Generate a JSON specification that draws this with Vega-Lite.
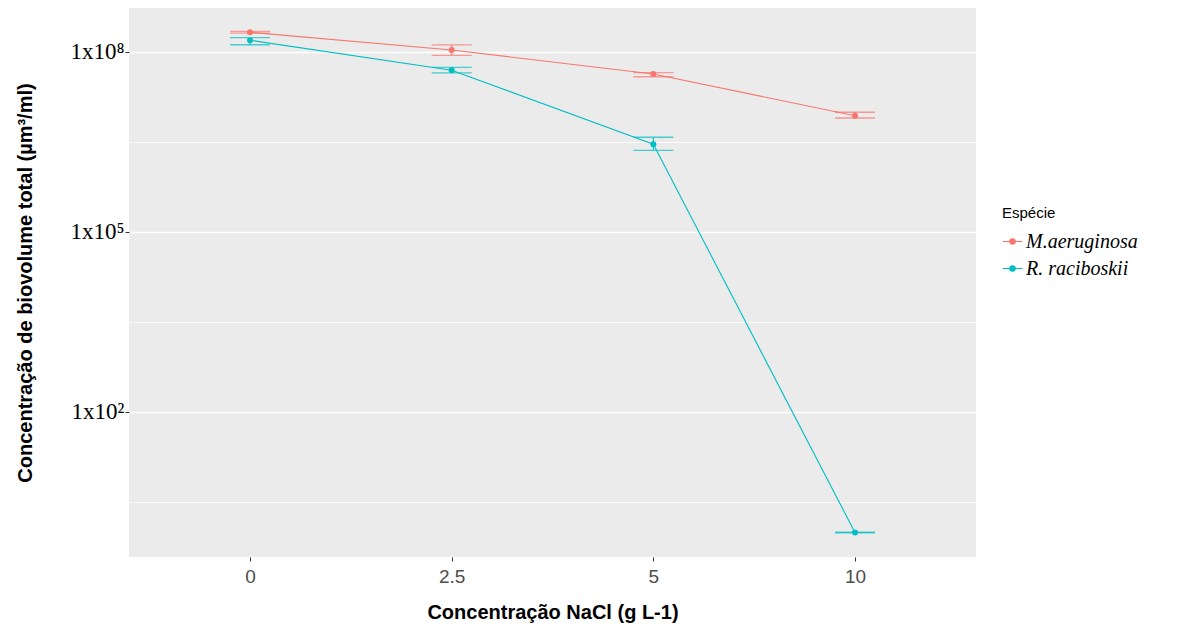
{
  "$schema": "https://vega.github.io/schema/vega-lite/v6.json",
  "width": 847,
  "height": 549,
  "autosize": {"type": "none"},
  "padding": {"left": 129, "top": 8, "right": 203, "bottom": 71},
  "background": "white",
  "config": {
    "view": {"fill": "#EBEBEB", "stroke": null},
    "axis": {"gridColor": "white", "domain": false, "tickColor": "#333333"}
  },
  "data": {
    "values": [
      {"conc": "0", "especie": "M.aeruginosa", "mean": 2.13e8, "lo": 2.06e8, "hi": 2.2e8},
      {"conc": "2.5", "especie": "M.aeruginosa", "mean": 1.08e8, "lo": 8.8e7, "hi": 1.31e8},
      {"conc": "5", "especie": "M.aeruginosa", "mean": 4.3e7, "lo": 3.87e7, "hi": 4.52e7},
      {"conc": "10", "especie": "M.aeruginosa", "mean": 8.67e6, "lo": 7.94e6, "hi": 9.9e6},
      {"conc": "0", "especie": "R. raciboskii", "mean": 1.57e8, "lo": 1.32e8, "hi": 1.73e8},
      {"conc": "2.5", "especie": "R. raciboskii", "mean": 4.96e7, "lo": 4.47e7, "hi": 5.56e7},
      {"conc": "5", "especie": "R. raciboskii", "mean": 2.9e6, "lo": 2.3e6, "hi": 3.79e6},
      {"conc": "10", "especie": "R. raciboskii", "mean": 0.98, "lo": 0.97, "hi": 0.99}
    ]
  },
  "encoding": {
    "x": {
      "field": "conc",
      "type": "ordinal",
      "sort": ["0", "2.5", "5", "10"],
      "scale": {"type": "point", "padding": 0.6},
      "axis": {
        "title": "Concentração NaCl (g L-1)",
        "labelAngle": 0,
        "labelFont": "Liberation Sans",
        "labelFontSize": 19,
        "labelColor": "#4D4D4D",
        "labelPadding": 6,
        "tickSize": 4,
        "gridWidth": 1.4,
        "titleFont": "Liberation Sans",
        "titleFontSize": 20,
        "titleFontWeight": "bold",
        "titleColor": "black",
        "titleBaseline": "middle",
        "titleY": 55
      }
    },
    "color": {
      "field": "especie",
      "type": "nominal",
      "scale": {"domain": ["M.aeruginosa", "R. raciboskii"], "range": ["#F8766D", "#00BFC4"]},
      "legend": {
        "title": "Espécie",
        "orient": "none",
        "legendX": 873,
        "legendY": 198,
        "titleFont": "Liberation Sans",
        "titleFontSize": 15,
        "titleFontWeight": "normal",
        "titleColor": "black",
        "titlePadding": 10,
        "labelFont": "Liberation Serif",
        "labelFontSize": 20,
        "labelFontStyle": "italic",
        "labelColor": "black",
        "labelOffset": 3,
        "rowPadding": 6,
        "symbolType": "M-1,0L1,0M-0.28,0A0.28,0.28 0 1,0 0.28,0A0.28,0.28 0 1,0 -0.28,0Z",
        "symbolSize": 380,
        "symbolStrokeWidth": 1.2,
        "symbolOpacity": 1
      }
    }
  },
  "layer": [
    {
      "mark": {"type": "line", "strokeWidth": 1.1},
      "encoding": {
        "y": {
          "field": "mean",
          "type": "quantitative",
          "scale": {"type": "log", "domain": [0.383, 541000000], "nice": false, "zero": false},
          "axis": {
            "values": [3.1623, 100, 3162.3, 100000, 3162278, 100000000],
            "labelExpr": "datum.value == 1e8 ? '1x10⁸' : datum.value == 1e5 ? '1x10⁵' : datum.value == 100 ? '1x10²' : ''",
            "labelFont": "Liberation Serif",
            "labelFontSize": 23,
            "labelColor": "black",
            "labelPadding": 1,
            "tickSize": 4,
            "tickColor": {"condition": {"test": "datum.value == 1e8 || datum.value == 1e5 || datum.value == 100", "value": "#333333"}, "value": "transparent"},
            "gridWidth": {"condition": {"test": "datum.value == 1e8 || datum.value == 1e5 || datum.value == 100", "value": 1.4}, "value": 0.7},
            "title": "Concentração de biovolume total (µm³/ml)",
            "titleFont": "Liberation Sans",
            "titleFontSize": 20,
            "titleFontWeight": "bold",
            "titleColor": "black",
            "titleAngle": 270,
            "titleAlign": "center",
            "titleBaseline": "middle",
            "titleX": -104,
            "titleY": 274.5
          }
        }
      }
    },
    {
      "mark": {"type": "point", "filled": true, "size": 36, "opacity": 1},
      "encoding": {"y": {"field": "mean", "type": "quantitative"}}
    },
    {
      "mark": {"type": "rule", "strokeWidth": 1.1},
      "encoding": {
        "y": {"field": "lo", "type": "quantitative"},
        "y2": {"field": "hi"}
      }
    },
    {
      "mark": {"type": "tick", "orient": "horizontal", "size": 40, "thickness": 1.3},
      "encoding": {"y": {"field": "lo", "type": "quantitative"}}
    },
    {
      "mark": {"type": "tick", "orient": "horizontal", "size": 40, "thickness": 1.3},
      "encoding": {"y": {"field": "hi", "type": "quantitative"}}
    }
  ]
}
